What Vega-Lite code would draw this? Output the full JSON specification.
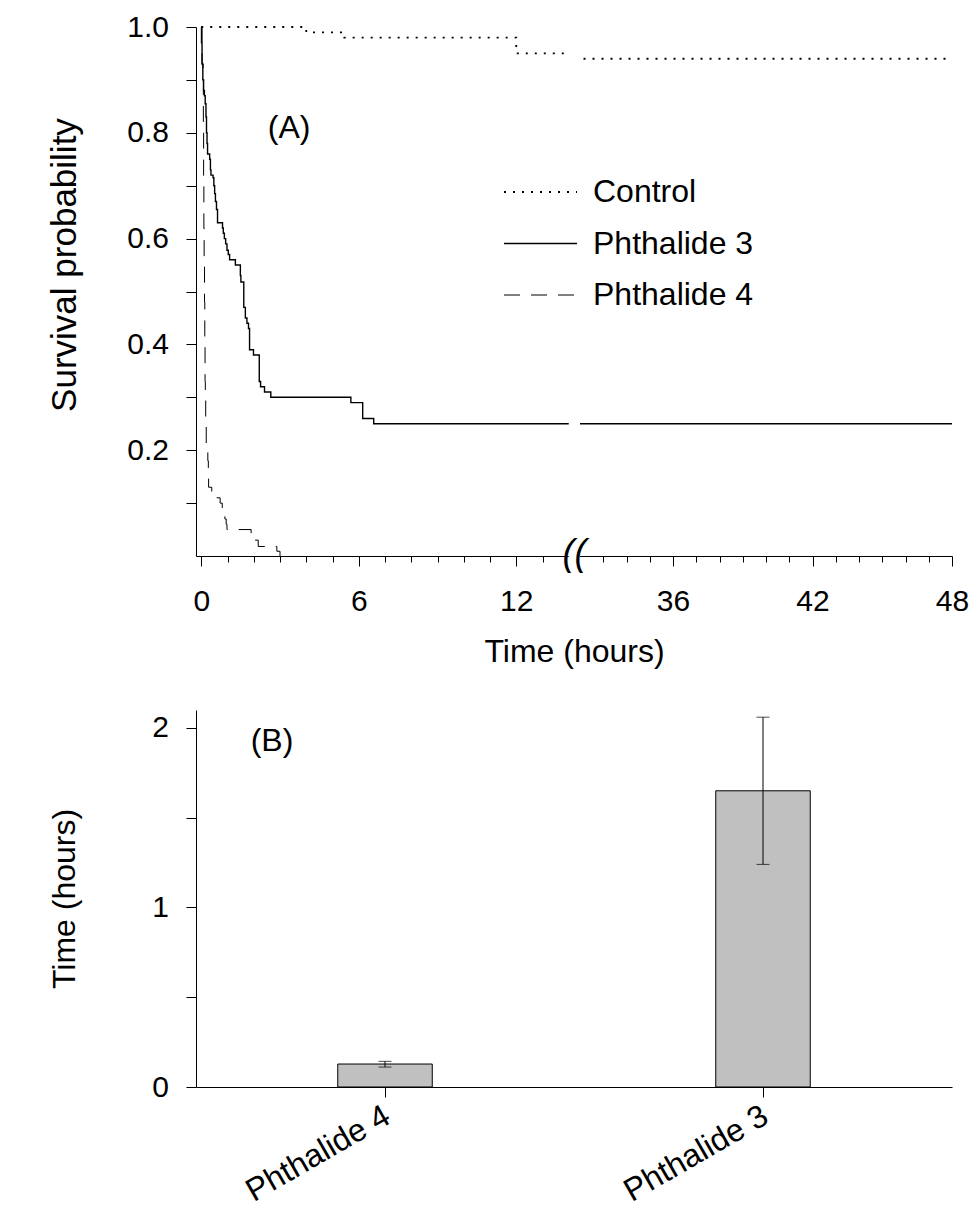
{
  "$schema": "https://vega.github.io/schema/vega-lite/v6.json",
  "background": "white",
  "padding": {"left": 47, "top": 12, "right": 10, "bottom": 0},
  "spacing": 43,
  "config": {
    "font": "Liberation Sans",
    "view": {"stroke": null},
    "axis": {
      "domainColor": "black", "tickColor": "black", "labelColor": "black", "titleColor": "black",
      "labelFont": "Liberation Sans", "titleFont": "Liberation Sans",
      "labelFontSize": 30, "titleFontSize": 32, "titleFontWeight": "normal",
      "grid": false, "tickSize": 10, "domainWidth": 1, "tickWidth": 1
    },
    "legend": {
      "labelFont": "Liberation Sans", "labelColor": "black", "labelFontSize": 32, "labelLimit": 0
    },
    "text": {"font": "Liberation Sans", "color": "black"}
  },
  "datasets": {
    "survival": [
      {"series": "Control", "t": 0, "s": 1},
      {"series": "Control", "t": 4.0, "s": 0.99},
      {"series": "Control", "t": 5.45, "s": 0.98},
      {"series": "Control", "t": 12.0, "s": 0.95},
      {"series": "Control", "t": 20, "s": 0.94},
      {"series": "Control", "t": 48, "s": 0.94},
      {"series": "Phthalide 3", "t": 0, "s": 1},
      {"series": "Phthalide 3", "t": 0.01, "s": 0.97},
      {"series": "Phthalide 3", "t": 0.03, "s": 0.93},
      {"series": "Phthalide 3", "t": 0.06, "s": 0.90},
      {"series": "Phthalide 3", "t": 0.09, "s": 0.88},
      {"series": "Phthalide 3", "t": 0.12, "s": 0.87},
      {"series": "Phthalide 3", "t": 0.15, "s": 0.855},
      {"series": "Phthalide 3", "t": 0.18, "s": 0.83},
      {"series": "Phthalide 3", "t": 0.2, "s": 0.80},
      {"series": "Phthalide 3", "t": 0.22, "s": 0.78},
      {"series": "Phthalide 3", "t": 0.24, "s": 0.76},
      {"series": "Phthalide 3", "t": 0.32, "s": 0.75},
      {"series": "Phthalide 3", "t": 0.35, "s": 0.73},
      {"series": "Phthalide 3", "t": 0.37, "s": 0.72},
      {"series": "Phthalide 3", "t": 0.45, "s": 0.715},
      {"series": "Phthalide 3", "t": 0.48, "s": 0.70},
      {"series": "Phthalide 3", "t": 0.51, "s": 0.685},
      {"series": "Phthalide 3", "t": 0.54, "s": 0.67},
      {"series": "Phthalide 3", "t": 0.58, "s": 0.655},
      {"series": "Phthalide 3", "t": 0.62, "s": 0.63},
      {"series": "Phthalide 3", "t": 0.81, "s": 0.62},
      {"series": "Phthalide 3", "t": 0.84, "s": 0.61},
      {"series": "Phthalide 3", "t": 0.88, "s": 0.60},
      {"series": "Phthalide 3", "t": 0.93, "s": 0.59},
      {"series": "Phthalide 3", "t": 0.98, "s": 0.578},
      {"series": "Phthalide 3", "t": 1.03, "s": 0.57},
      {"series": "Phthalide 3", "t": 1.08, "s": 0.56},
      {"series": "Phthalide 3", "t": 1.30, "s": 0.55},
      {"series": "Phthalide 3", "t": 1.49, "s": 0.53},
      {"series": "Phthalide 3", "t": 1.51, "s": 0.518},
      {"series": "Phthalide 3", "t": 1.62, "s": 0.47},
      {"series": "Phthalide 3", "t": 1.68, "s": 0.45},
      {"series": "Phthalide 3", "t": 1.74, "s": 0.44},
      {"series": "Phthalide 3", "t": 1.80, "s": 0.43},
      {"series": "Phthalide 3", "t": 1.84, "s": 0.39},
      {"series": "Phthalide 3", "t": 1.99, "s": 0.38},
      {"series": "Phthalide 3", "t": 2.21, "s": 0.33},
      {"series": "Phthalide 3", "t": 2.26, "s": 0.32},
      {"series": "Phthalide 3", "t": 2.41, "s": 0.31},
      {"series": "Phthalide 3", "t": 2.65, "s": 0.30},
      {"series": "Phthalide 3", "t": 5.70, "s": 0.29},
      {"series": "Phthalide 3", "t": 6.15, "s": 0.26},
      {"series": "Phthalide 3", "t": 6.57, "s": 0.25},
      {"series": "Phthalide 3", "t": 48, "s": 0.25},
      {"series": "Phthalide 4", "t": 0, "s": 1},
      {"series": "Phthalide 4", "t": 0.03, "s": 0.93},
      {"series": "Phthalide 4", "t": 0.07, "s": 0.90},
      {"series": "Phthalide 4", "t": 0.08, "s": 0.80},
      {"series": "Phthalide 4", "t": 0.09, "s": 0.70},
      {"series": "Phthalide 4", "t": 0.10, "s": 0.62},
      {"series": "Phthalide 4", "t": 0.11, "s": 0.55},
      {"series": "Phthalide 4", "t": 0.125, "s": 0.48},
      {"series": "Phthalide 4", "t": 0.135, "s": 0.40},
      {"series": "Phthalide 4", "t": 0.145, "s": 0.33},
      {"series": "Phthalide 4", "t": 0.155, "s": 0.30},
      {"series": "Phthalide 4", "t": 0.17, "s": 0.25},
      {"series": "Phthalide 4", "t": 0.19, "s": 0.21},
      {"series": "Phthalide 4", "t": 0.25, "s": 0.18},
      {"series": "Phthalide 4", "t": 0.27, "s": 0.15},
      {"series": "Phthalide 4", "t": 0.28, "s": 0.13},
      {"series": "Phthalide 4", "t": 0.40, "s": 0.12},
      {"series": "Phthalide 4", "t": 0.60, "s": 0.11},
      {"series": "Phthalide 4", "t": 0.72, "s": 0.10},
      {"series": "Phthalide 4", "t": 0.80, "s": 0.09},
      {"series": "Phthalide 4", "t": 0.85, "s": 0.08},
      {"series": "Phthalide 4", "t": 0.90, "s": 0.07},
      {"series": "Phthalide 4", "t": 0.95, "s": 0.06},
      {"series": "Phthalide 4", "t": 0.98, "s": 0.05},
      {"series": "Phthalide 4", "t": 1.90, "s": 0.03},
      {"series": "Phthalide 4", "t": 2.17, "s": 0.018},
      {"series": "Phthalide 4", "t": 2.88, "s": 0.009},
      {"series": "Phthalide 4", "t": 3.0, "s": 0}
    ],
    "gap": [{"from": 14, "to": 32, "lo": -0.025, "hi": 1.02}],
    "breakmark": [{"t": 23, "s": 0, "label": "(("}],
    "annotA": [{"t": 3.35, "s": 0.81, "label": "(A)"}],
    "bars": [
      {"group": "Phthalide 4", "mean": 0.128, "lo": 0.111, "hi": 0.143},
      {"group": "Phthalide 3", "mean": 1.65, "lo": 1.24, "hi": 2.06}
    ],
    "annotB": [{"group": "Phthalide 4", "val": 1.925, "label": "(B)"}]
  },
  "vconcat": [
    {
      "width": 756,
      "height": 529,
      "resolve": {"axis": {"x": "independent"}},
      "layer": [
        {
          "data": {"name": "survival"},
          "mark": {"type": "line", "interpolate": "step-after", "color": "black"},
          "encoding": {
            "x": {
              "field": "t", "type": "quantitative", "title": "Time (hours)",
              "scale": {"domain": [-0.2, 14, 32, 48], "range": [0, 372.75, 384, 756], "nice": false, "zero": false},
              "axis": {"orient": "bottom", "values": [0, 6, 12, 36, 42, 48], "tickSize": 10, "labelPadding": 20, "titlePadding": 20, "labelFlush": false, "labelBound": false, "labelOverlap": false, "format": "d"}
            },
            "y": {
              "field": "s", "type": "quantitative", "title": "Survival probability",
              "scale": {"domain": [0, 1], "nice": false, "zero": false},
              "axis": {"values": [0.1, 0.2, 0.3, 0.4, 0.5, 0.6, 0.7, 0.8, 0.9, 1.0], "labelExpr": "round(datum.value*10) % 2 == 0 ? format(datum.value, '.1f') : ''", "tickSize": 10, "labelPadding": 17.5, "titlePadding": 44, "titleFontSize": 35, "titleY": 237.5, "labelOverlap": false}
            },
            "strokeDash": {
              "field": "series", "type": "nominal",
              "scale": {"domain": ["Control", "Phthalide 3", "Phthalide 4"], "range": [[2, 7], [1, 0], [16, 11]]},
              "legend": {
                "orient": "none", "legendX": 307, "legendY": 150, "title": null,
                "symbolType": "stroke", "symbolSize": 5329, "symbolStrokeColor": "black",
                "labelOffset": 15, "clipHeight": 30, "rowPadding": 19.5, "padding": 0, "labelBaseline": "middle", "labelLimit": 0
              }
            },
            "strokeWidth": {
              "field": "series", "type": "nominal",
              "scale": {"domain": ["Control", "Phthalide 3", "Phthalide 4"], "range": [1.8, 1, 1]},
              "legend": {
                "orient": "none", "legendX": 307, "legendY": 150, "title": null,
                "symbolType": "stroke", "symbolSize": 5329, "symbolStrokeColor": "black",
                "labelOffset": 15, "clipHeight": 30, "rowPadding": 19.5, "padding": 0, "labelBaseline": "middle", "labelLimit": 0
              }
            }
          }
        },
        {
          "data": {"name": "gap"},
          "mark": {"type": "rect", "fill": "white", "stroke": null},
          "encoding": {
            "x": {"field": "from", "type": "quantitative", "title": "Time (hours)", "axis": null},
            "x2": {"field": "to"},
            "y": {"field": "lo", "type": "quantitative", "title": "Survival probability"},
            "y2": {"field": "hi"}
          }
        },
        {
          "data": {"name": "breakmark"},
          "mark": {"type": "text", "fontSize": 36, "fontStyle": "italic", "align": "center", "baseline": "middle", "dy": -2},
          "encoding": {
            "x": {
              "field": "t", "type": "quantitative", "title": null,
              "axis": {"orient": "bottom", "values": [1, 2, 3, 4, 5, 7, 8, 9, 10, 11, 13, 33, 34, 35, 37, 38, 39, 40, 41, 43, 44, 45, 46, 47], "tickSize": 6, "labels": false, "domain": false, "title": null}
            },
            "y": {"field": "s", "type": "quantitative", "title": "Survival probability"},
            "text": {"field": "label"}
          }
        },
        {
          "data": {"name": "annotA"},
          "mark": {"type": "text", "fontSize": 32, "align": "center", "baseline": "middle"},
          "encoding": {
            "x": {"field": "t", "type": "quantitative", "title": null, "axis": null},
            "y": {"field": "s", "type": "quantitative", "title": "Survival probability"},
            "text": {"field": "label"}
          }
        }
      ]
    },
    {
      "width": 756,
      "height": 377,
      "layer": [
        {
          "data": {"name": "bars"},
          "mark": {"type": "bar", "fill": "#c0c0c0", "stroke": "black", "strokeWidth": 1, "width": {"band": 0.25}},
          "encoding": {
            "x": {
              "field": "group", "type": "nominal", "title": null,
              "scale": {"domain": ["Phthalide 4", "Phthalide 3"], "paddingInner": 0, "paddingOuter": 0},
              "axis": {"labelAngle": -30, "labelAlign": "right", "labelBaseline": "top", "labelFontSize": 32, "tickSize": 10, "labelPadding": 3, "labelOffset": -5}
            },
            "y": {
              "field": "mean", "type": "quantitative", "title": "Time (hours)",
              "scale": {"domain": [0, 2.1], "nice": false},
              "axis": {"values": [0, 0.5, 1, 1.5, 2], "labelExpr": "datum.value % 1 == 0 ? format(datum.value, 'd') : ''", "tickSize": 10, "labelPadding": 17.5, "titlePadding": 70, "labelOverlap": false}
            }
          }
        },
        {
          "data": {"name": "bars"},
          "mark": {"type": "rule", "color": "black", "strokeWidth": 1},
          "encoding": {
            "x": {"field": "group", "type": "nominal", "title": null},
            "y": {"field": "lo", "type": "quantitative", "title": "Time (hours)"},
            "y2": {"field": "hi"}
          }
        },
        {
          "data": {"name": "bars"},
          "mark": {"type": "tick", "color": "black", "size": 13, "thickness": 1},
          "encoding": {
            "x": {"field": "group", "type": "nominal", "title": null},
            "y": {"field": "lo", "type": "quantitative", "title": "Time (hours)"}
          }
        },
        {
          "data": {"name": "bars"},
          "mark": {"type": "tick", "color": "black", "size": 13, "thickness": 1},
          "encoding": {
            "x": {"field": "group", "type": "nominal", "title": null},
            "y": {"field": "hi", "type": "quantitative", "title": "Time (hours)"}
          }
        },
        {
          "data": {"name": "annotB"},
          "mark": {"type": "text", "fontSize": 32, "align": "center", "baseline": "middle", "dx": -113},
          "encoding": {
            "x": {"field": "group", "type": "nominal", "title": null},
            "y": {"field": "val", "type": "quantitative", "title": "Time (hours)"},
            "text": {"field": "label"}
          }
        }
      ]
    }
  ]
}
